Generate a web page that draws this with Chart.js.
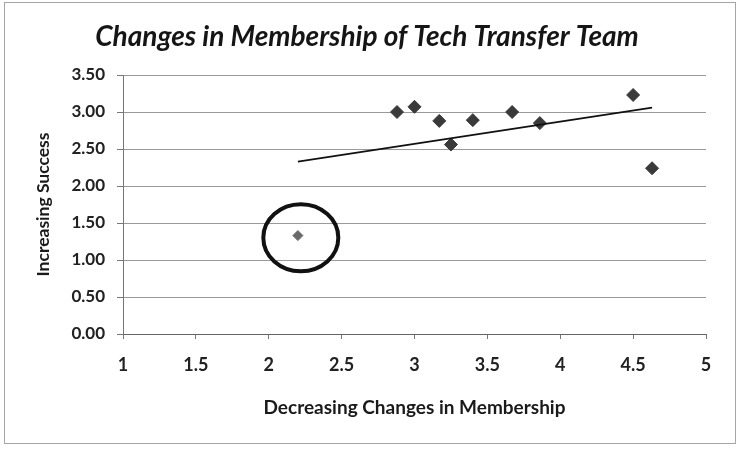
<!DOCTYPE html>
<html><head><meta charset="utf-8">
<script src="https://cdn.jsdelivr.net/npm/chart.js@4"></script>
<style>html,body{margin:0;padding:0;background:#fff}#wrap{width:744px;height:450px;position:relative}</style>
</head><body><div id="wrap"><canvas id="c" width="744" height="450"></canvas></div>
<script>
const titleText = "Changes in Membership of Tech Transfer Team";
const xAxisTitle = "Decreasing Changes in Membership";
const yAxisTitle = "Increasing Success";
const xTicks = [1, 1.5, 2, 2.5, 3, 3.5, 4, 4.5, 5];
const yTicks = [0, 0.5, 1, 1.5, 2, 2.5, 3, 3.5];
const teamX = [2.88, 3.00, 3.17, 3.25, 3.40, 3.67, 3.86, 4.50, 4.63];
const teamY = [3.00, 3.07, 2.88, 2.56, 2.89, 3.00, 2.85, 3.23, 2.24];
const outlierX = [2.20];
const outlierY = [1.33];
const trendX = [2.20, 4.63];
const trendY = [2.33, 3.06];
const circleX = [2.22];
const circleY = [1.30];

const pts = (xs, ys) => xs.map((x, i) => ({x: x, y: ys[i]}));

const framePlugin = {
  id: 'frame',
  beforeDraw(chart) {
    const ctx = chart.ctx;
    ctx.save();
    ctx.fillStyle = '#fff';
    ctx.fillRect(0, 0, chart.width, chart.height);
    ctx.strokeStyle = '#a5a5a5';
    ctx.lineWidth = 1;
    ctx.strokeRect(4.5, 2.5, 731, 441);
    ctx.restore();
  }
};
const circlePlugin = {
  id: 'circleMark',
  afterDatasetsDraw(chart) {
    const ctx = chart.ctx, xs = chart.scales.x, ys = chart.scales.y;
    ctx.save();
    ctx.strokeStyle = '#111';
    ctx.lineWidth = 4;
    circleX.forEach((cx, i) => {
      ctx.beginPath();
      ctx.ellipse(xs.getPixelForValue(cx), ys.getPixelForValue(circleY[i]), 37.5, 33.5, 0, 0, Math.PI * 2);
      ctx.stroke();
    });
    ctx.restore();
  }
};

new Chart(document.getElementById('c'), {
  type: 'scatter',
  data: {
    datasets: [
      { data: pts(trendX, trendY), showLine: true, borderColor: '#111', borderWidth: 1.8, pointRadius: 0, fill: false },
      { data: pts(teamX, teamY), pointStyle: 'rectRot', pointRadius: 6.5, backgroundColor: '#3a3a3a', borderColor: '#3a3a3a', borderWidth: 1 },
      { data: pts(outlierX, outlierY), pointStyle: 'rectRot', pointRadius: 5, backgroundColor: '#6a6a6a', borderColor: '#6a6a6a', borderWidth: 1 }
    ]
  },
  options: {
    responsive: false, animation: false, devicePixelRatio: 1,
    layout: { padding: { left: 28, right: 38, top: 0, bottom: 7 } },
    plugins: {
      legend: { display: false }, tooltip: { enabled: false },
      title: { display: true, text: titleText, color: '#151515',
        font: { family: 'Lato', size: 28, weight: 'bold', style: 'italic' },
        padding: { top: 20.2, bottom: 21.2 } }
    },
    scales: {
      x: {
        type: 'linear', min: 1, max: 5,
        afterBuildTicks: s => { s.ticks = xTicks.map(v => ({value: v})); },
        afterFit: s => { s.height = 109; },
        grid: { drawOnChartArea: false, drawTicks: true, tickLength: 5, tickColor: '#777' },
        border: { color: '#666', width: 1 },
        ticks: { color: '#222', padding: 15, font: { family: 'Lato', size: 18, weight: 'bold' }, callback: v => String(v), maxRotation: 0 },
        title: { display: true, text: xAxisTitle, color: '#1a1a1a', font: { family: 'Lato', size: 19, weight: 'bold' }, padding: { top: 0, bottom: 23.6 } }
      },
      y: {
        type: 'linear', min: 0, max: 3.5,
        afterBuildTicks: s => { s.ticks = yTicks.map(v => ({value: v})); },
        afterFit: s => { s.width = 95; },
        grid: { color: '#9a9a9a', lineWidth: 1, drawTicks: true, tickLength: 6, tickColor: '#777' },
        border: { color: '#777', width: 1 },
        ticks: { color: '#222', padding: 12, font: { family: 'Lato', size: 17, weight: 'bold' }, callback: v => Number(v).toFixed(2) },
        title: { display: true, text: yAxisTitle, color: '#1a1a1a', font: { family: 'Lato', size: 17.5, weight: 'bold' }, padding: { top: 4.5, bottom: 0 } }
      }
    }
  },
  plugins: [framePlugin, circlePlugin]
});
</script></body></html>
